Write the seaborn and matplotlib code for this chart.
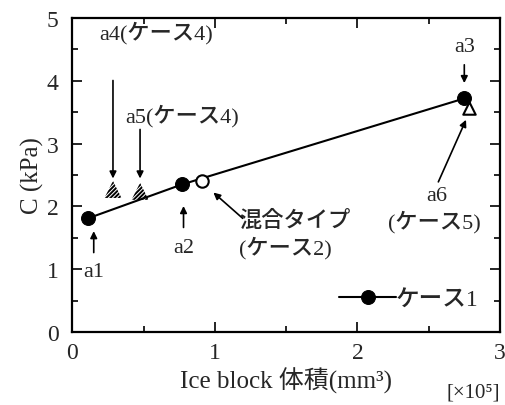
import pandas as pd
import matplotlib.pyplot as plt
import seaborn as sns

# ケース1 (a1, a2, a3)
case1_x = [0.11, 0.77, 2.75]
case1_y = [1.81, 2.35, 3.72]
# 混合タイプ (ケース2)
mix_x = [0.91]
mix_y = [2.40]
# ケース4 (a4, a5)
case4_x = [0.285, 0.475]
case4_y = [2.27, 2.24]
# ケース5 (a6)
case5_x = [2.78]
case5_y = [3.57]

sns.set_style('ticks')
plt.rcParams['font.family'] = ['Liberation Serif', 'Noto Sans CJK JP']
plt.rcParams['hatch.linewidth'] = 1.4

fig, ax = plt.subplots(figsize=(5.06, 4.06), dpi=100)
fig.subplots_adjust(left=0.143, right=0.988, top=0.953, bottom=0.18)

d1 = pd.DataFrame({'x': case1_x, 'y': case1_y})
sns.lineplot(x='x', y='y', data=d1, ax=ax, color='black', lw=1.5, marker='o',
             markersize=10, markeredgecolor='black', label='ケース1')
sns.scatterplot(x=mix_x, y=mix_y, ax=ax, marker='o', s=80, facecolor='white',
                edgecolor='black', linewidth=1.5, zorder=4)
sns.scatterplot(x=case4_x, y=case4_y, ax=ax, marker='^', s=150, facecolor='none',
                edgecolor='black', linewidth=0, hatch='////////', zorder=4)
sns.scatterplot(x=case5_x, y=case5_y, ax=ax, marker='^', s=80, facecolor='white',
                edgecolor='black', linewidth=1.5, zorder=4)

ax.set_xlim(0, 3)
ax.set_ylim(0, 5)
ax.set_xticks([0, 1, 2, 3])
ax.set_yticks([0, 1, 2, 3, 4, 5])
ax.set_xticks([0.5, 1.5, 2.5], minor=True)
ax.set_yticks([0.5, 1.5, 2.5, 3.5, 4.5], minor=True)
ax.tick_params(which='both', direction='in', top=True, right=True,
               width=1.2, labelsize=17, color='black')
ax.tick_params(which='major', length=7, pad=10)
ax.tick_params(axis='x', which='major', pad=7)
ax.tick_params(which='minor', length=4)
for s in ax.spines.values():
    s.set_linewidth(1.6)
    s.set_color('black')

ax.set_xlabel('Ice block 体積(mm³)', fontsize=18, labelpad=3)
ax.set_ylabel('C (kPa)', fontsize=18, labelpad=2)
ax.text(1.0, -0.19, '[×10⁵]', transform=ax.transAxes, fontsize=15,
        ha='right', va='center')

arr = dict(arrowstyle='-|>', color='black', lw=1.2, mutation_scale=10)
fs = 16
tw = 'medium'
ax.text(0.19, 4.78, 'a4(ケース4)', fontsize=fs, ha='left', va='center', fontweight=tw)
ax.annotate('', xy=(0.285, 2.40), xytext=(0.285, 4.05), arrowprops=arr)
ax.text(0.37, 3.45, 'a5(ケース4)', fontsize=fs, ha='left', va='center', fontweight=tw)
ax.annotate('', xy=(0.475, 2.40), xytext=(0.475, 3.27), arrowprops=arr)
ax.text(2.75, 4.55, 'a3', fontsize=fs, ha='center', va='center')
ax.annotate('', xy=(2.75, 3.92), xytext=(2.75, 4.30), arrowprops=arr)
ax.text(0.15, 0.96, 'a1', fontsize=fs, ha='center', va='center')
ax.annotate('', xy=(0.15, 1.65), xytext=(0.15, 1.22), arrowprops=arr)
ax.text(0.78, 1.34, 'a2', fontsize=fs, ha='center', va='center')
ax.annotate('', xy=(0.78, 2.05), xytext=(0.78, 1.62), arrowprops=arr)
ax.text(1.17, 1.77, '混合タイプ', fontsize=fs, ha='left', va='center', fontweight=tw)
ax.text(1.17, 1.35, '(ケース2)', fontsize=fs, ha='left', va='center', fontweight=tw)
ax.annotate('', xy=(0.975, 2.25), xytext=(1.21, 1.78), arrowprops=arr)
ax.text(2.56, 2.17, 'a6', fontsize=fs, ha='center', va='center')
ax.text(2.54, 1.77, '(ケース5)', fontsize=fs, ha='center', va='center', fontweight=tw)
ax.annotate('', xy=(2.77, 3.42), xytext=(2.56, 2.35), arrowprops=arr)

leg = ax.legend(loc='lower right', frameon=False, fontsize=17, handlelength=2.4,
                handletextpad=0.0, borderaxespad=0.5)
for t in leg.get_texts():
    t.set_fontweight(tw)

plt.savefig('out.png', dpi=100)
